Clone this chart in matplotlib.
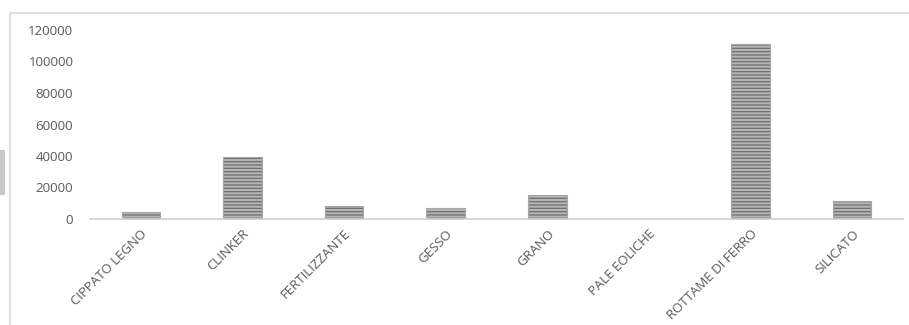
import matplotlib.pyplot as plt
from matplotlib.patches import Rectangle

# Values
categories = ["CIPPATO LEGNO", "CLINKER", "FERTILIZZANTE", "GESSO", "GRANO",
              "PALE EOLICHE", "ROTTAME DI FERRO", "SILICATO"]
values = [4400, 39500, 8500, 6700, 15500, 0, 110800, 11400]
y_ticks = [0, 20000, 40000, 60000, 80000, 100000, 120000]

plt.rcParams["font.family"] = ["Open Sans", "DejaVu Sans"]
plt.rcParams["hatch.linewidth"] = 0.9

fig = plt.figure(figsize=(9.09, 3.25), dpi=100)
W, H = 909, 325

# chart border (frame of the spreadsheet chart area)
fig.patches.append(Rectangle((10 / W, -0.1), 1.0, (H - 13) / H + 0.1,
                             transform=fig.transFigure, fill=False,
                             edgecolor="#d9d9d9", linewidth=1.2))
# small grey block at the left edge
fig.patches.append(Rectangle((0, (H - 195) / H), 5 / W, 45 / H,
                             transform=fig.transFigure, facecolor="#c8c8c8",
                             edgecolor="none"))

ax = fig.add_axes([90 / W, (H - 219) / H, (903 - 90) / W, (219 - 30) / H])

x = range(len(categories))
# striped fill, then a light outline on top
ax.bar(x, values, width=0.38, color="#b4b4b4", edgecolor="#707070",
       hatch="-----", linewidth=0)
ax.bar(x, values, width=0.38, fill=False, edgecolor="#a6a6a6", linewidth=0.8)

ax.set_xlim(-0.5, len(categories) - 0.5)
ax.set_ylim(0, 120000)
ax.set_yticks(y_ticks)
ax.set_yticklabels([str(v) for v in y_ticks])
ax.set_xticks(list(x))
ax.set_xticklabels(categories, rotation=45, ha="right", rotation_mode="anchor")

for s in ["top", "right", "left"]:
    ax.spines[s].set_visible(False)
ax.spines["bottom"].set_color("#d0d0d0")
ax.spines["bottom"].set_linewidth(1.2)

ax.tick_params(axis="both", length=0, colors="#595959", labelsize=9.5)
ax.tick_params(axis="y", pad=12)
ax.tick_params(axis="x", pad=6)

fig.savefig("out.png", dpi=100)
